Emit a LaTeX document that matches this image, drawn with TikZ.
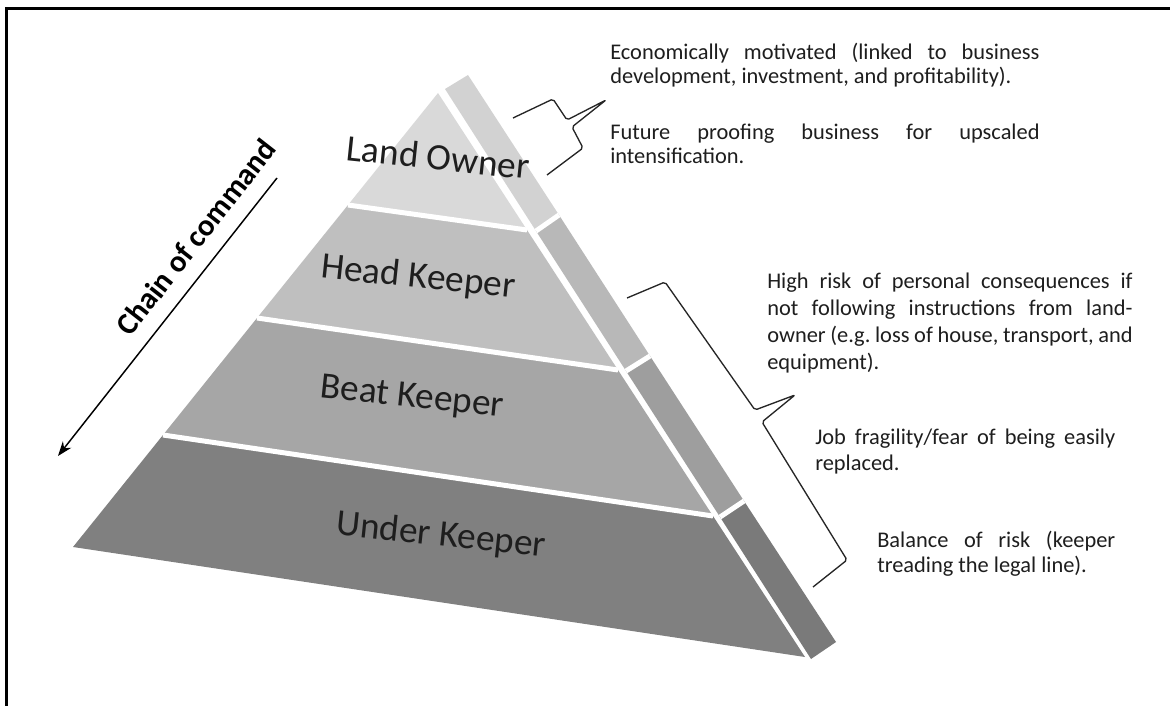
\documentclass[tikz,border=0pt]{standalone}
\usepackage{fontspec}
\setmainfont{Carlito}
\usetikzlibrary{arrows.meta}

\definecolor{frontA}{HTML}{D9D9D9}
\definecolor{frontB}{HTML}{BFBFBF}
\definecolor{frontC}{HTML}{A6A6A6}
\definecolor{frontD}{HTML}{808080}
\definecolor{sideA}{HTML}{D2D2D2}
\definecolor{sideB}{HTML}{B8B8B8}
\definecolor{sideC}{HTML}{9E9E9E}
\definecolor{sideD}{HTML}{7A7A7A}
\definecolor{ink}{HTML}{1E1E1E}

% a line set to a fixed width, its spaces stretched
\newcommand{\fullline}[2]{\leavevmode\hbox to #1{#2}}
% word spacing used in the notes
\newcommand{\notespacing}{\frenchspacing\spaceskip=0.226em plus 3em minus 0.08em\relax}

\tikzset{
  gapline/.style={white, line width=3.75pt, line cap=butt},
  tier/.style={font=\fontsize{28}{31}\selectfont, rotate=-6, text=ink, inner sep=0pt},
  note/.style={font=\fontsize{16.8}{#1}\selectfont, execute at begin node={\notespacing},
               text=ink, anchor=base west, inner sep=0pt, align=left},
  bracepath/.style={draw=black!85, line width=1pt, line join=round, rounded corners=1.5pt},
}

\begin{document}
\begin{tikzpicture}[x=0.75pt, y=-0.75pt]
  % page area and frame
  \useasboundingbox[fill=white] (0,0) rectangle (1170,706);
  \draw[line width=2pt] (6.2,706) -- (6.2,8.7) -- (1170,8.7);

  % front face of the pyramid, four tiers
  \coordinate (apex) at (438,93);
  \coordinate (l1) at (348,205);  \coordinate (r1) at (527,230);
  \coordinate (l2) at (257,318);  \coordinate (r2) at (618,370);
  \coordinate (l3) at (163,435);  \coordinate (r3) at (713,516);
  \coordinate (bl) at (73,547);   \coordinate (br) at (805,657);

  \fill[frontA] (apex) -- (l1) -- (r1) -- cycle;
  \fill[frontB] (l1) -- (l2) -- (r2) -- (r1) -- cycle;
  \fill[frontC] (l2) -- (l3) -- (r3) -- (r2) -- cycle;
  \fill[frontD] (l3) -- (bl) -- (br) -- (r3) -- cycle;

  % side strip, four pieces
  \coordinate (s0a) at (445,89);  \coordinate (s0b) at (468,75);
  \coordinate (s1a) at (536,231); \coordinate (s1b) at (559,215);
  \coordinate (s2a) at (626,371); \coordinate (s2b) at (650,356);
  \coordinate (s3a) at (720,517); \coordinate (s3b) at (744,501);
  \coordinate (s4a) at (811,659); \coordinate (s4b) at (836,642);

  \fill[sideA] (s0a) -- (s0b) -- (s1b) -- (s1a) -- cycle;
  \fill[sideB] (s1a) -- (s1b) -- (s2b) -- (s2a) -- cycle;
  \fill[sideC] (s2a) -- (s2b) -- (s3b) -- (s3a) -- cycle;
  \fill[sideD] (s3a) -- (s3b) -- (s4b) -- (s4a) -- cycle;

  % white joints between the tiers
  \draw[gapline] (l1) -- (r1);
  \draw[gapline] (l2) -- (r2);
  \draw[gapline] (l3) -- (r3);
  \draw[gapline] (s1a) -- (s1b);
  \draw[gapline] (s2a) -- (s2b);
  \draw[gapline] (s3a) -- (s3b);

  % tier labels
  \node[tier] (landowner) at (438,157) {Land Owner};
  \node[tier] (headkeeper) at (418,278) {Head Keeper};
  \node[tier] (beatkeeper) at (412,398) {Beat Keeper};
  \node[tier] (underkeeper) at (441,536) {Under Keeper};

  % chain of command arrow
  \coordinate (cmdtop) at (277,178);
  \coordinate (cmdbot) at (58,456);
  \draw[line width=1.1pt, -{Stealth[length=11pt, width=8pt]}] (cmdtop) -- (cmdbot);
  \node[font=\bfseries\fontsize{23}{26}\selectfont, rotate=52, inner sep=0pt] (chain)
    at (196,237) {Chain of command};

  % brace beside the top tier
  \coordinate (b1top) at (513,118);
  \coordinate (b1bot) at (547,175);
  \draw[bracepath] (b1top) -- (553,99) -- (567,120) -- (606,100)
                   -- (572,127) -- (583,148) -- (b1bot);

  % brace beside the lower tiers
  \coordinate (b2top) at (627,298);
  \coordinate (b2bot) at (813,587);
  \draw[bracepath] (b2top) -- (665,282) -- (755,410) -- (795,395)
                   -- (762,422) -- (847,560) -- (b2bot);

  % notes
  \node[note=17.6pt, text width=322pt] (econ) at (610,60)
    {\fullline{322pt}{Economically motivated (linked to business}\\
     development, investment, and profitability).};
  \node[note=18pt, text width=322pt] (future) at (610,140)
    {\fullline{322pt}{Future proofing business for upscaled}\\
     intensification.};
  \node[note=20.3pt, text width=274pt] (risk) at (767,288)
    {\fullline{274pt}{High risk of personal consequences if}\\
     \fullline{274pt}{not following instructions from land-}\\
     \fullline{274pt}{owner (e.g. loss of house, transport, and}\\
     equipment).};
  \node[note=19.5pt, text width=225pt] (job) at (815,444)
    {\fullline{225pt}{Job fragility/fear of being easily}\\
     replaced.};
  \node[note=19pt, text width=178.5pt] (balance) at (877,547)
    {\fullline{178.5pt}{Balance of risk (keeper}\\
     treading the legal line).};
\end{tikzpicture}
\end{document}
